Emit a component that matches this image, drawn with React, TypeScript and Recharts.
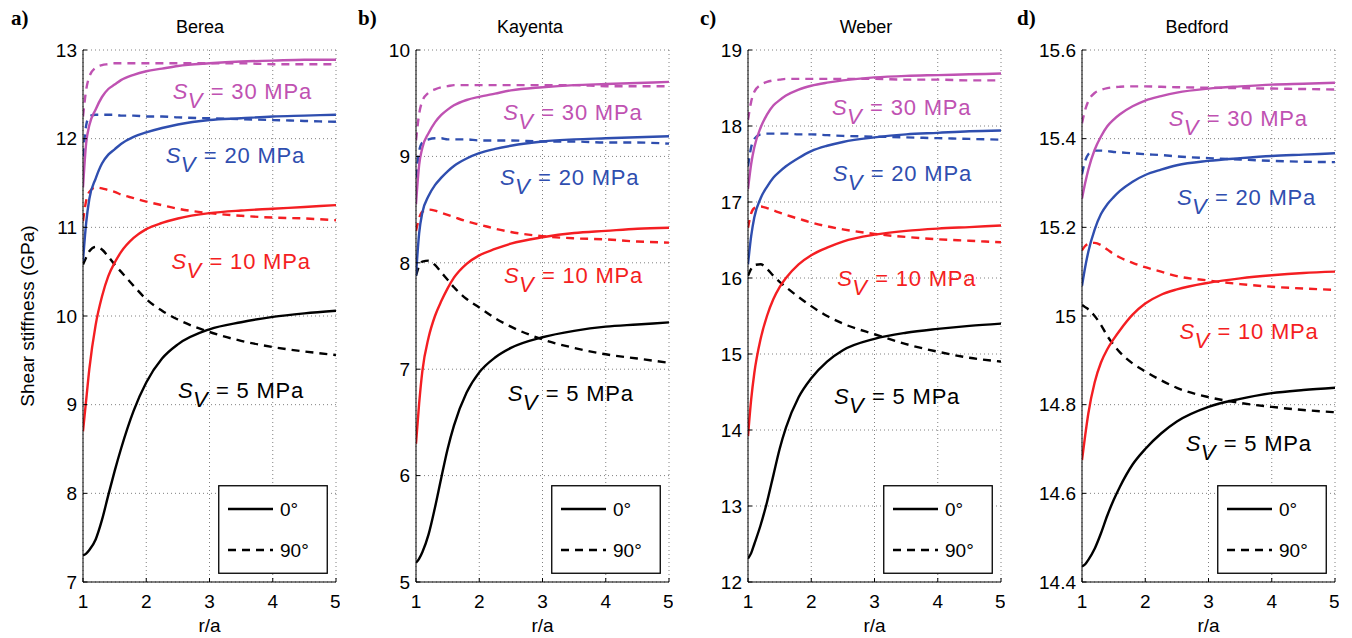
import { CartesianGrid, Legend, Line, LineChart, ReferenceDot, XAxis, YAxis } from 'recharts';

// r/a sample points shared by every curve
const R_A = [1, 1.05, 1.1, 1.2, 1.3, 1.4, 1.5, 1.6, 1.8, 2, 2.25, 2.5, 3, 3.5, 4, 4.5, 5];
const X_TICKS = [1, 2, 3, 4, 5];

const SV_LEVELS = ['5', '10', '20', '30'];
const SV_COLORS = ['#000000', '#f41e22', '#2f4eaf', '#bf52b2'];

// Berea (GPa)
const BEREA_5_0 = [7.3, 7.32, 7.36, 7.48, 7.7, 7.98, 8.25, 8.5, 8.93, 9.25, 9.52, 9.68, 9.85, 9.93, 9.99, 10.03, 10.06];
const BEREA_5_90 = [10.58, 10.66, 10.73, 10.78, 10.75, 10.67, 10.58, 10.5, 10.34, 10.19, 10.06, 9.96, 9.82, 9.72, 9.65, 9.6, 9.56];
const BEREA_10_0 = [8.7, 9.05, 9.4, 9.9, 10.22, 10.45, 10.6, 10.72, 10.88, 10.98, 11.05, 11.1, 11.16, 11.19, 11.21, 11.23, 11.25];
const BEREA_10_90 = [11.07, 11.3, 11.4, 11.45, 11.44, 11.42, 11.4, 11.37, 11.33, 11.29, 11.25, 11.21, 11.16, 11.13, 11.11, 11.1, 11.08];
const BEREA_20_0 = [10.62, 11.05, 11.32, 11.55, 11.72, 11.82, 11.88, 11.94, 12.02, 12.07, 12.12, 12.16, 12.21, 12.23, 12.25, 12.26, 12.27];
const BEREA_20_90 = [11.8, 12.15, 12.25, 12.27, 12.27, 12.27, 12.27, 12.26, 12.26, 12.25, 12.25, 12.24, 12.23, 12.22, 12.21, 12.2, 12.19];
const BEREA_30_0 = [11.45, 11.95, 12.15, 12.33, 12.47, 12.56, 12.61, 12.66, 12.72, 12.76, 12.79, 12.82, 12.85, 12.87, 12.88, 12.89, 12.89];
const BEREA_30_90 = [12.25, 12.55, 12.7, 12.8, 12.83, 12.84, 12.85, 12.85, 12.85, 12.85, 12.85, 12.85, 12.85, 12.85, 12.84, 12.84, 12.84];

// Kayenta
const KAYENTA_5_0 = [5.18, 5.22, 5.28, 5.45, 5.7, 5.98, 6.25, 6.47, 6.78, 6.97, 7.11, 7.2, 7.3, 7.36, 7.4, 7.42, 7.44];
const KAYENTA_5_90 = [7.88, 7.97, 8.01, 8.02, 7.98, 7.91, 7.84, 7.77, 7.66, 7.58, 7.48, 7.4, 7.28, 7.2, 7.14, 7.1, 7.06];
const KAYENTA_10_0 = [6.3, 6.68, 6.98, 7.3, 7.5, 7.64, 7.76, 7.86, 7.99, 8.07, 8.13, 8.18, 8.24, 8.28, 8.3, 8.32, 8.33];
const KAYENTA_10_90 = [8.3, 8.42, 8.48, 8.5, 8.49, 8.47, 8.45, 8.43, 8.39, 8.36, 8.32, 8.29, 8.25, 8.23, 8.22, 8.2, 8.19];
const KAYENTA_20_0 = [7.88, 8.28, 8.47, 8.63, 8.73, 8.8, 8.86, 8.91, 8.98, 9.03, 9.07, 9.1, 9.14, 9.16, 9.17, 9.18, 9.19];
const KAYENTA_20_90 = [8.8, 9.05, 9.13, 9.16, 9.17, 9.17, 9.16, 9.16, 9.16, 9.15, 9.15, 9.15, 9.14, 9.14, 9.13, 9.13, 9.12];
const KAYENTA_30_0 = [8.55, 8.92, 9.08, 9.22, 9.32, 9.39, 9.44, 9.48, 9.53, 9.56, 9.59, 9.62, 9.65, 9.67, 9.68, 9.69, 9.7];
const KAYENTA_30_90 = [9.15, 9.4, 9.52, 9.6, 9.63, 9.65, 9.66, 9.67, 9.67, 9.67, 9.67, 9.67, 9.67, 9.67, 9.66, 9.66, 9.66];

// Weber
const WEBER_5_0 = [12.31, 12.38, 12.5, 12.75, 13.05, 13.4, 13.75, 14.03, 14.43, 14.68, 14.9, 15.05, 15.2, 15.28, 15.33, 15.37, 15.4];
const WEBER_5_90 = [16.03, 16.12, 16.17, 16.18, 16.12, 16.03, 15.95, 15.88, 15.75, 15.63, 15.5, 15.4, 15.26, 15.13, 15.03, 14.95, 14.9];
const WEBER_10_0 = [13.92, 14.4, 14.75, 15.2, 15.5, 15.72, 15.88, 16.0, 16.18, 16.3, 16.4, 16.48, 16.57, 16.62, 16.65, 16.67, 16.69];
const WEBER_10_90 = [16.66, 16.85, 16.92, 16.94, 16.92, 16.89, 16.86, 16.83, 16.78, 16.73, 16.68, 16.64, 16.58, 16.54, 16.51, 16.49, 16.47];
const WEBER_20_0 = [16.18, 16.55, 16.8, 17.05, 17.2, 17.32, 17.4, 17.47, 17.58, 17.67, 17.74, 17.79, 17.85, 17.89, 17.91, 17.93, 17.94];
const WEBER_20_90 = [17.47, 17.72, 17.83, 17.89, 17.9, 17.9, 17.9, 17.9, 17.89, 17.89, 17.88, 17.87, 17.86, 17.85, 17.84, 17.83, 17.82];
const WEBER_30_0 = [17.17, 17.5, 17.72, 17.98, 18.15, 18.27, 18.34, 18.4, 18.48, 18.53, 18.57, 18.6, 18.64, 18.66, 18.67, 18.68, 18.69];
const WEBER_30_90 = [18.08, 18.32, 18.45, 18.54, 18.58, 18.6, 18.61, 18.62, 18.62, 18.62, 18.62, 18.62, 18.62, 18.61, 18.61, 18.6, 18.6];

// Bedford
const BEDFORD_5_0 = [14.435, 14.44, 14.45, 14.475, 14.51, 14.55, 14.585, 14.615, 14.665, 14.7, 14.735, 14.762, 14.795, 14.813, 14.826, 14.833, 14.838];
const BEDFORD_5_90 = [15.025, 15.02, 15.015, 15.0, 14.98, 14.955, 14.935, 14.918, 14.893, 14.875, 14.855, 14.838, 14.817, 14.804, 14.795, 14.788, 14.783];
const BEDFORD_10_0 = [14.675, 14.73, 14.78, 14.85, 14.895, 14.925, 14.948, 14.968, 15.003, 15.028, 15.048, 15.06, 15.075, 15.085, 15.092, 15.097, 15.1];
const BEDFORD_10_90 = [15.148, 15.158, 15.163, 15.165, 15.16, 15.15, 15.14, 15.132, 15.12, 15.11, 15.1, 15.09, 15.08, 15.072, 15.066, 15.062, 15.059];
const BEDFORD_20_0 = [15.068, 15.11, 15.145, 15.195, 15.23, 15.252, 15.268, 15.282, 15.303, 15.318, 15.33, 15.34, 15.35, 15.356, 15.361, 15.364, 15.367];
const BEDFORD_20_90 = [15.32, 15.35, 15.365, 15.373, 15.373, 15.372, 15.37, 15.369, 15.367, 15.365, 15.363, 15.36, 15.356, 15.353, 15.35, 15.348, 15.347];
const BEDFORD_30_0 = [15.265, 15.3, 15.33, 15.375, 15.405, 15.428, 15.443, 15.455, 15.473, 15.486, 15.496, 15.504, 15.513, 15.518, 15.522, 15.524, 15.526];
const BEDFORD_30_90 = [15.435, 15.465, 15.485, 15.503, 15.51, 15.514, 15.516, 15.517, 15.518, 15.518, 15.517, 15.516, 15.515, 15.514, 15.513, 15.512, 15.511];

// where each "S_V = .. MPa" text starts (r/a, GPa at baseline), in SV_LEVELS order
const BEREA_LABELS = [[2.5, 9.08], [2.4, 10.53], [2.31, 11.73], [2.42, 12.45]];
const KAYENTA_LABELS = [[2.45, 6.7], [2.39, 7.81], [2.33, 8.73], [2.38, 9.34]];
const WEBER_LABELS = [[2.36, 14.34], [2.41, 15.89], [2.34, 17.27], [2.33, 18.14]];
const BEDFORD_LABELS = [[2.64, 14.695], [2.54, 14.949], [2.5, 15.25], [2.37, 15.428]];

const LEGEND_ITEMS = [
  { label: '0°', dash: undefined },
  { label: '90°', dash: '8 6' },
];

const PANELS = [
  {
    letter: 'a)', letterX: 11, title: 'Berea', titleX: 200, plotLeft: 83,
    domain: [7, 13], ticks: [7, 8, 9, 10, 11, 12, 13],
    solid: [BEREA_5_0, BEREA_10_0, BEREA_20_0, BEREA_30_0],
    dashed: [BEREA_5_90, BEREA_10_90, BEREA_20_90, BEREA_30_90],
    labels: BEREA_LABELS, yTitle: true,
  },
  {
    letter: 'b)', letterX: 358, title: 'Kayenta', titleX: 530, plotLeft: 416,
    domain: [5, 10], ticks: [5, 6, 7, 8, 9, 10],
    solid: [KAYENTA_5_0, KAYENTA_10_0, KAYENTA_20_0, KAYENTA_30_0],
    dashed: [KAYENTA_5_90, KAYENTA_10_90, KAYENTA_20_90, KAYENTA_30_90],
    labels: KAYENTA_LABELS, yTitle: false,
  },
  {
    letter: 'c)', letterX: 700, title: 'Weber', titleX: 866, plotLeft: 748,
    domain: [12, 19], ticks: [12, 13, 14, 15, 16, 17, 18, 19],
    solid: [WEBER_5_0, WEBER_10_0, WEBER_20_0, WEBER_30_0],
    dashed: [WEBER_5_90, WEBER_10_90, WEBER_20_90, WEBER_30_90],
    labels: WEBER_LABELS, yTitle: false,
  },
  {
    letter: 'd)', letterX: 1017, title: 'Bedford', titleX: 1197, plotLeft: 1082,
    domain: [14.4, 15.6], ticks: [14.4, 14.6, 14.8, 15, 15.2, 15.4, 15.6],
    solid: [BEDFORD_5_0, BEDFORD_10_0, BEDFORD_20_0, BEDFORD_30_0],
    dashed: [BEDFORD_5_90, BEDFORD_10_90, BEDFORD_20_90, BEDFORD_30_90],
    labels: BEDFORD_LABELS, yTitle: false,
  },
];

const FONT = '"Liberation Sans", Arial, Helvetica, sans-serif';
const PLOT_W = 253;
const AXIS_W = 60;
const PAD_L = 20;
const LINE_W = 2.4;
const TICK_STYLE = { fontSize: 19, fill: '#000' };

function SvText({ x, y, sv, color }: { x: number; y: number; sv: string; color: string }) {
  return (
    <text x={x} y={y} fill={color} fontSize={22} fontFamily={FONT}>
      <tspan fontStyle="italic">S</tspan>
      <tspan x={x + 15} dy={9} fontStyle="italic">V</tspan>
      <tspan x={x + 38} dy={-9} letterSpacing={0.8}>{`= ${sv} MPa`}</tspan>
    </text>
  );
}

function LegendBox() {
  return (
    <svg width={110} height={89} style={{ display: 'block' }}>
      <rect x={0.75} y={0.75} width={108.5} height={87.5} fill="#fff" stroke="#000" strokeWidth={1.3} />
      {LEGEND_ITEMS.map((item, i) => (
        <g key={item.label}>
          <line x1={10} x2={55} y1={24 + i * 41} y2={24 + i * 41} stroke="#000" strokeWidth={LINE_W} strokeDasharray={item.dash} />
          <text x={62} y={31 + i * 41} fontSize={19} fontFamily={FONT}>{item.label}</text>
        </g>
      ))}
    </svg>
  );
}

function Panel({ p }: { p: (typeof PANELS)[number] }) {
  const rows = R_A.map((r, i) => {
    const row: Record<string, number> = { r };
    SV_LEVELS.forEach((sv, k) => {
      row[`s${sv}_0`] = p.solid[k][i];
      row[`s${sv}_90`] = p.dashed[k][i];
    });
    return row;
  });
  const yLabel = p.yTitle
    ? { value: 'Shear stiffness (GPa)', angle: -90, position: 'insideLeft' as const, offset: 4, style: { textAnchor: 'middle', fontSize: 19, fill: '#000' } }
    : undefined;

  return (
    <div style={{ position: 'absolute', left: p.plotLeft - AXIS_W - PAD_L, top: 0 }}>
      <LineChart width={PAD_L + AXIS_W + PLOT_W + 4} height={638} data={rows} margin={{ top: 50, right: 4, bottom: 6, left: PAD_L }}>
        <CartesianGrid stroke="#808080" strokeDasharray="1 3" />
        <XAxis dataKey="r" type="number" domain={[1, 5]} ticks={X_TICKS} allowDataOverflow height={50}
          tickSize={-4} tickMargin={17} tick={TICK_STYLE} stroke="#000"
          label={{ value: 'r/a', position: 'insideBottom', offset: 0, fontSize: 19, fill: '#000' }} />
        <XAxis xAxisId="top" orientation="top" dataKey="r" type="number" domain={[1, 5]} ticks={X_TICKS}
          allowDataOverflow height={0} tickSize={-4} tickFormatter={() => ''} stroke="#000" />
        <YAxis type="number" domain={p.domain} ticks={p.ticks} allowDataOverflow width={AXIS_W}
          tickSize={-4} tickMargin={10} tick={TICK_STYLE} stroke="#000" label={yLabel} />
        <YAxis yAxisId="right" orientation="right" type="number" domain={p.domain} ticks={p.ticks}
          allowDataOverflow width={0} tickSize={-4} tickFormatter={() => ''} stroke="#000" />
        {SV_LEVELS.map((sv, k) => (
          <Line key={`d${sv}`} type="monotone" dataKey={`s${sv}_90`} stroke={SV_COLORS[k]} strokeWidth={LINE_W}
            strokeDasharray="8 6" dot={false} isAnimationActive={false} />
        ))}
        {SV_LEVELS.map((sv, k) => (
          <Line key={`s${sv}`} type="monotone" dataKey={`s${sv}_0`} stroke={SV_COLORS[k]} strokeWidth={LINE_W}
            dot={false} isAnimationActive={false} />
        ))}
        {SV_LEVELS.map((sv, k) => (
          <ReferenceDot key={`l${sv}`} x={p.labels[k][0]} y={p.labels[k][1]} r={0} fill="none" stroke="none"
            label={(lp: any) => {
              const vb = lp.viewBox || {};
              return <SvText x={(vb.x || 0) + (vb.width || 0) / 2} y={(vb.y || 0) + (vb.height || 0) / 2} sv={sv} color={SV_COLORS[k]} />;
            }} />
        ))}
        <Legend layout="horizontal" verticalAlign="middle" align="center" content={() => <LegendBox />}
          wrapperStyle={{ left: PAD_L + AXIS_W + PLOT_W - 8 - 110, top: 485, width: 110, height: 89 }} />
      </LineChart>
    </div>
  );
}

export default function App() {
  return (
    <div style={{ position: 'absolute', left: 0, top: 0, width: 1352, height: 638, background: '#fff', fontFamily: FONT }}>
      {PANELS.map((p) => (
        <div key={p.title}>
          <div style={{ position: 'absolute', left: p.letterX, top: 8, fontFamily: '"Liberation Serif", "Times New Roman", serif', fontWeight: 'bold', fontSize: 21, lineHeight: '21px' }}>
            {p.letter}
          </div>
          <div style={{ position: 'absolute', left: p.titleX - 100, width: 200, top: 18, textAlign: 'center', fontSize: 18, lineHeight: '18px' }}>
            {p.title}
          </div>
          <Panel p={p} />
        </div>
      ))}
    </div>
  );
}
